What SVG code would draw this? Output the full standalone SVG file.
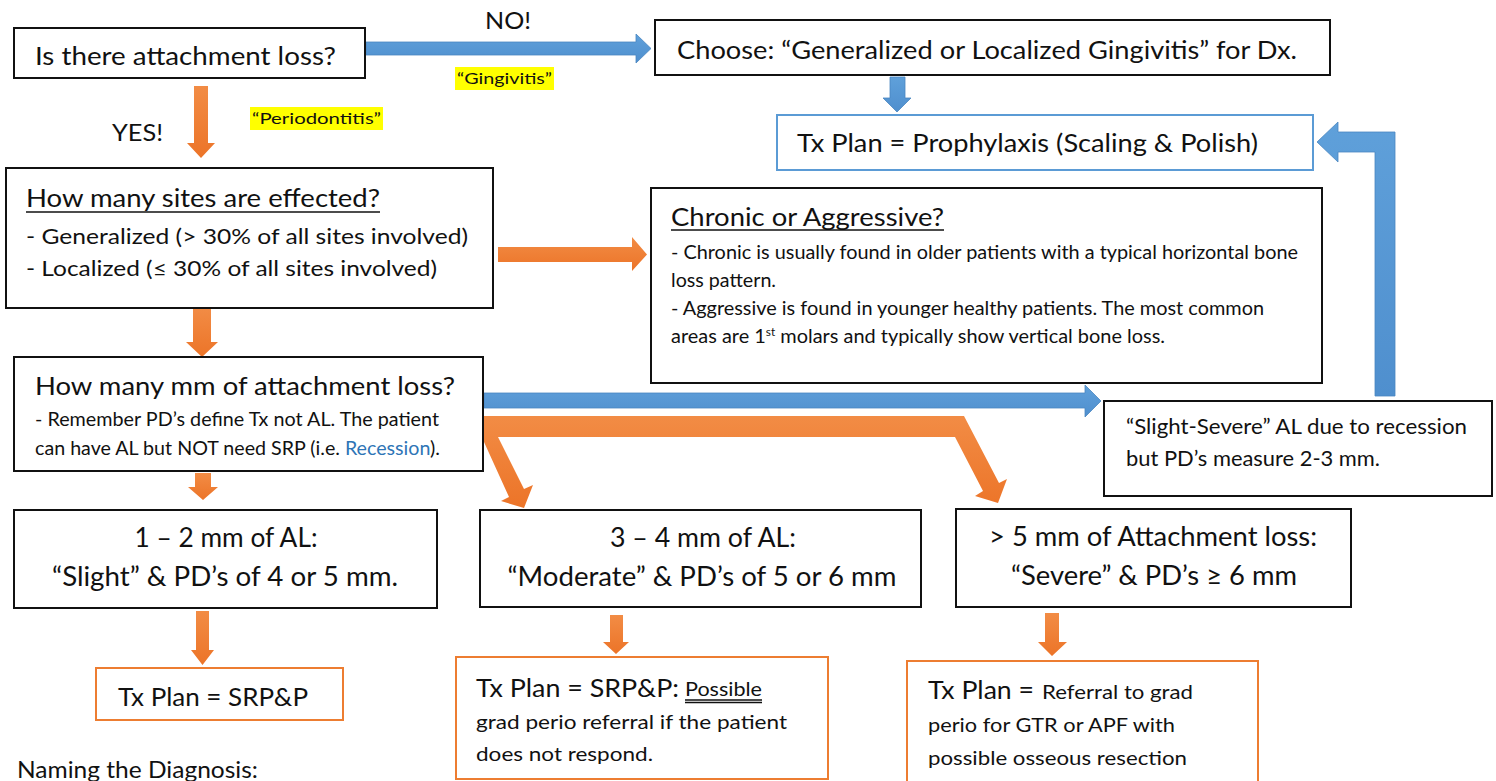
<svg xmlns="http://www.w3.org/2000/svg" width="1496" height="781" viewBox="0 0 1496 781">
  <style>
    .box { fill: #ffffff; stroke: #111111; stroke-width: 2; }
    .box-blue { fill: #ffffff; stroke: #5b9bd5; stroke-width: 2; }
    .box-orange { fill: #ffffff; stroke: #ed7d31; stroke-width: 2; }
    text { font-family: Lato, "Open Sans", "Liberation Sans", sans-serif; fill: #111111; }
    .t24 { font-size: 25px; }
    .t25 { font-size: 26px; }
    .t21 { font-size: 22px; }
    .t19 { font-size: 20px; }
    .t18 { font-size: 18.5px; }
    .lbl { font-size: 23px; }
    .hl { font-size: 16px; }
    .mid { text-anchor: middle; }
    .ul { stroke: #111111; stroke-width: 1.3; }
    .arrow-o { fill: url(#gOrange); }
    .arrow-b { fill: url(#gBlue); stroke: #4a86c0; stroke-width: 0.8; }
  </style>
  <defs>
    <linearGradient id="gOrange" x1="0" y1="0" x2="0" y2="1">
      <stop offset="0" stop-color="#f28c45"/>
      <stop offset="1" stop-color="#ec7428"/>
    </linearGradient>
    <linearGradient id="gBlue" x1="0" y1="0" x2="0" y2="1">
      <stop offset="0" stop-color="#5fa0da"/>
      <stop offset="1" stop-color="#4f8fce"/>
    </linearGradient>
  </defs>

  <!-- connectors -->
  <g id="connectors">
    <!-- NO: attachment loss -> gingivitis -->
    <polygon class="arrow-b" points="366,42 636,42 636,34 651,48.5 636,63 636,55 366,55"/>
    <!-- gingivitis -> prophylaxis -->
    <polygon class="arrow-b" points="890,77 905,77 905,98 911,98 897,112 883,98 890,98"/>
    <!-- recession -> prophylaxis (bent) -->
    <polygon class="arrow-b" points="1375,396 1375,152 1338,152 1338,162 1317,142 1338,122 1338,132 1395,132 1395,396"/>
    <!-- mm of AL -> recession -->
    <polygon class="arrow-b" points="484,393 1085,393 1085,385 1101,401 1085,417 1085,408 484,408"/>

    <!-- YES: attachment loss -> sites -->
    <polygon class="arrow-o" points="194,86 208,86 208,143 215,143 201,158 187,143 194,143"/>
    <!-- sites -> chronic/aggressive -->
    <polygon class="arrow-o" points="498,247 632,247 632,237 647,254.5 632,271 632,262 498,262"/>
    <!-- sites -> mm of AL -->
    <polygon class="arrow-o" points="193,308 211,308 211,342 218,342 202,357 186,342 193,342"/>
    <!-- mm of AL -> slight -->
    <polygon class="arrow-o" points="195,473 211,473 211,487 218,487 203,500 188,487 195,487"/>
    <!-- mm of AL -> moderate and severe (split bar) -->
    <polygon class="arrow-o" points="484,416 964,416 999,483 1007,479 998,503 975,496 983,491 955,437 498,437 524,489 533,485 524,508 501,501 509,497 484,442"/>
    <!-- slight -> SRP&P -->
    <polygon class="arrow-o" points="196,611 209,611 209,650 214,650 202.5,665 191,650 196,650"/>
    <!-- moderate -> SRP&P possible referral -->
    <polygon class="arrow-o" points="610,615 623,615 623,642 629,642 616,654 603,642 610,642"/>
    <!-- severe -> referral -->
    <polygon class="arrow-o" points="1045,613 1059,613 1059,642 1067,642 1052,656 1038,642 1045,642"/>
  </g>

  <!-- edge labels -->
  <g id="labels">
    <text class="lbl mid" x="508" y="29" textLength="46" lengthAdjust="spacingAndGlyphs">NO!</text>
    <rect x="455" y="67" width="99" height="23" fill="#ffff00"/>
    <text class="hl" x="457" y="84" textLength="95" lengthAdjust="spacingAndGlyphs">“Gingivitis”</text>
    <text class="lbl" x="112" y="141" textLength="51" lengthAdjust="spacingAndGlyphs">YES!</text>
    <rect x="250" y="107" width="133" height="23" fill="#ffff00"/>
    <text class="hl" x="252" y="124" textLength="129" lengthAdjust="spacingAndGlyphs">“Periodontitis”</text>
  </g>

  <g id="n-attachment">
    <rect class="box" x="14" y="28" width="351" height="50"/>
    <text class="t24" x="35" y="65" textLength="301" lengthAdjust="spacingAndGlyphs">Is there attachment loss?</text>
  </g>

  <g id="n-gingivitis">
    <rect class="box" x="655" y="20" width="675" height="55"/>
    <text class="t24" x="677" y="59" textLength="620" lengthAdjust="spacingAndGlyphs">Choose: “Generalized or Localized Gingivitis” for Dx.</text>
  </g>

  <g id="n-prophylaxis">
    <rect class="box-blue" x="777" y="115" width="536" height="55"/>
    <text class="t24" x="797" y="152" textLength="461" lengthAdjust="spacingAndGlyphs">Tx Plan = Prophylaxis (Scaling &amp; Polish)</text>
  </g>

  <g id="n-sites">
    <rect class="box" x="6" y="168" width="487" height="140"/>
    <text class="t24" x="26" y="207" textLength="354" lengthAdjust="spacingAndGlyphs">How many sites are effected?</text>
    <line class="ul" x1="26" y1="212" x2="380" y2="212"/>
    <text class="t21" x="26" y="244" textLength="442" lengthAdjust="spacingAndGlyphs">- Generalized (&gt; 30% of all sites involved)</text>
    <text class="t21" x="26" y="276" textLength="411" lengthAdjust="spacingAndGlyphs">- Localized (≤ 30% of all sites involved)</text>
  </g>

  <g id="n-chronic">
    <rect class="box" x="651" y="188" width="671" height="195"/>
    <text class="t24" x="671" y="226" textLength="273" lengthAdjust="spacingAndGlyphs">Chronic or Aggressive?</text>
    <line class="ul" x1="671" y1="230" x2="944" y2="230"/>
    <text class="t18" x="671" y="259" textLength="627" lengthAdjust="spacingAndGlyphs">- Chronic is usually found in older patients with a typical horizontal bone</text>
    <text class="t18" x="671" y="287" textLength="105" lengthAdjust="spacingAndGlyphs">loss pattern.</text>
    <text class="t18" x="671" y="315" textLength="593" lengthAdjust="spacingAndGlyphs">- Aggressive is found in younger healthy patients. The most common</text>
    <text class="t18" x="671" y="343" textLength="494" lengthAdjust="spacingAndGlyphs">areas are 1<tspan font-size="11" dy="-7">st</tspan><tspan dy="7"> molars and typically show vertical bone loss.</tspan></text>
  </g>

  <g id="n-mm-al">
    <rect class="box" x="14" y="357" width="469" height="114"/>
    <text class="t24" x="35" y="395" textLength="420" lengthAdjust="spacingAndGlyphs">How many mm of attachment loss?</text>
    <text class="t18" x="35" y="426" textLength="404" lengthAdjust="spacingAndGlyphs">- Remember PD’s define Tx not AL. The patient</text>
    <text class="t18" x="35" y="455" textLength="405" lengthAdjust="spacingAndGlyphs">can have AL but NOT need SRP (i.e. <tspan fill="#2e75b6">Recession</tspan>).</text>
  </g>

  <g id="n-recession">
    <rect class="box" x="1104" y="401" width="388" height="95"/>
    <text class="t21" x="1126" y="434" textLength="341" lengthAdjust="spacingAndGlyphs">“Slight-Severe” AL due to recession</text>
    <text class="t21" x="1126" y="466" textLength="254" lengthAdjust="spacingAndGlyphs">but PD’s measure 2-3 mm.</text>
  </g>

  <g id="n-slight">
    <rect class="box" x="14" y="510" width="423" height="98"/>
    <text class="t25 mid" x="226" y="547" textLength="183" lengthAdjust="spacingAndGlyphs">1 – 2 mm of AL:</text>
    <text class="t25 mid" x="225" y="586" textLength="346" lengthAdjust="spacingAndGlyphs">“Slight” &amp; PD’s of 4 or 5 mm.</text>
  </g>

  <g id="n-moderate">
    <rect class="box" x="480" y="510" width="441" height="97"/>
    <text class="t25 mid" x="703" y="547" textLength="186" lengthAdjust="spacingAndGlyphs">3 – 4 mm of AL:</text>
    <text class="t25 mid" x="702" y="586" textLength="389" lengthAdjust="spacingAndGlyphs">“Moderate” &amp; PD’s of 5 or 6 mm</text>
  </g>

  <g id="n-severe">
    <rect class="box" x="956" y="509" width="395" height="98"/>
    <text class="t25 mid" x="1153" y="546" textLength="328" lengthAdjust="spacingAndGlyphs">&gt; 5 mm of Attachment loss:</text>
    <text class="t25 mid" x="1154" y="585" textLength="286" lengthAdjust="spacingAndGlyphs">“Severe” &amp; PD’s ≥ 6 mm</text>
  </g>

  <g id="n-tx-slight">
    <rect class="box-orange" x="96" y="668" width="247" height="52"/>
    <text class="t24" x="118" y="706" textLength="190" lengthAdjust="spacingAndGlyphs">Tx Plan = SRP&amp;P</text>
  </g>

  <g id="n-tx-moderate">
    <rect class="box-orange" x="456" y="657" width="372" height="122"/>
    <text class="t24" x="476" y="697" textLength="203" lengthAdjust="spacingAndGlyphs">Tx Plan = SRP&amp;P:</text>
    <text class="t19" x="685" y="696" textLength="77" lengthAdjust="spacingAndGlyphs">Possible</text>
    <line class="ul" x1="685" y1="700" x2="762" y2="700" stroke-width="1"/>
    <line class="ul" x1="685" y1="702.5" x2="762" y2="702.5" stroke-width="1"/>
    <text class="t19" x="476" y="729" textLength="311" lengthAdjust="spacingAndGlyphs">grad perio referral if the patient</text>
    <text class="t19" x="476" y="761" textLength="177" lengthAdjust="spacingAndGlyphs">does not respond.</text>
  </g>

  <g id="n-tx-severe">
    <rect class="box-orange" x="907" y="661" width="351" height="122"/>
    <text class="t24" x="928" y="699" textLength="106" lengthAdjust="spacingAndGlyphs">Tx Plan =</text>
    <text class="t19" x="1042" y="699" textLength="151" lengthAdjust="spacingAndGlyphs">Referral to grad</text>
    <text class="t19" x="928" y="732" textLength="247" lengthAdjust="spacingAndGlyphs">perio for GTR or APF with</text>
    <text class="t19" x="928" y="765" textLength="259" lengthAdjust="spacingAndGlyphs">possible osseous resection</text>
  </g>

  <text class="lbl" x="17" y="778" textLength="241" lengthAdjust="spacingAndGlyphs">Naming the Diagnosis:</text>
</svg>
